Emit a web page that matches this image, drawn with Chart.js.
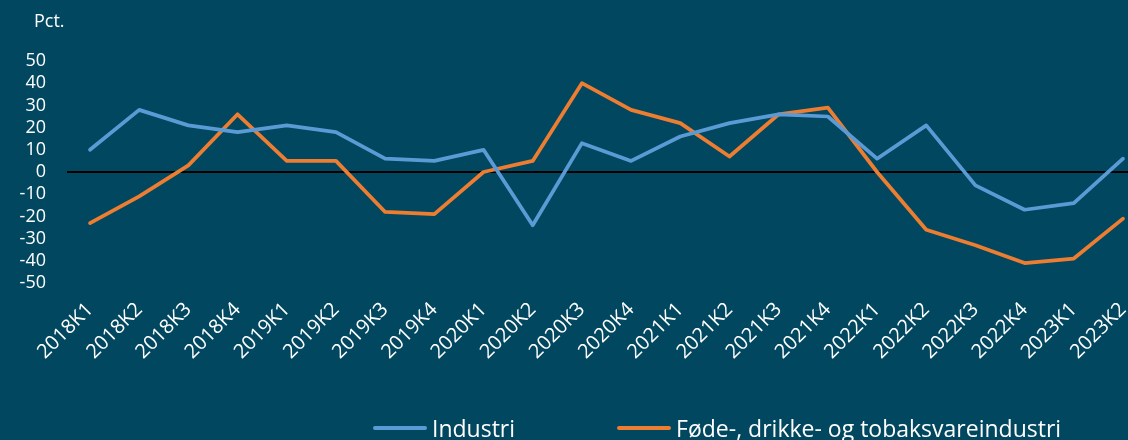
<!DOCTYPE html>
<html>
<head>
<meta charset="utf-8">
<script src="https://cdn.jsdelivr.net/npm/chart.js@4/dist/chart.umd.min.js"></script>
<style>
  html, body { margin: 0; padding: 0; background: #00475F; }
  #wrap { position: relative; width: 1128px; height: 440px; background: #00475F; overflow: hidden; font-family: "Open Sans", sans-serif; color: #ffffff; }
  #c { position: absolute; left: 0; top: 0; }
  #unit { position: absolute; left: 34px; top: 8px; font-size: 18px; color: #fff; }
  #legend { position: absolute; top: 413px; left: 373px; height: 30px; display: flex; align-items: center; font-size: 23px; color: #fff; white-space: nowrap; }
  .li { display: flex; align-items: center; }
  .sw { width: 54px; height: 4px; margin-right: 5px; border-radius: 2px; }
</style>
</head>
<body>
<div id="wrap">
  <canvas id="c" width="1128" height="440"></canvas>
  <div id="unit">Pct.</div>
  <div id="legend"></div>
</div>
<script>
const categories = ["2018K1","2018K2","2018K3","2018K4","2019K1","2019K2","2019K3","2019K4","2020K1","2020K2","2020K3","2020K4","2021K1","2021K2","2021K3","2021K4","2022K1","2022K2","2022K3","2022K4","2023K1","2023K2"];
const industri = [10, 28, 21, 18, 21, 18, 6, 5, 10, -24, 13, 5, 16, 22, 26, 25, 6, 21, -6, -17, -14, 6];
const foedevarer = [-23, -11, 3, 26, 5, 5, -18, -19, 0, 5, 40, 28, 22, 7, 26, 29, 0, -26, -33, -41, -39, -21];
const seriesNames = ["Industri", "Føde-, drikke- og tobaksvareindustri"];
const seriesColors = ["#5B9BD5", "#ED7D31"];
const yTicks = [50, 40, 30, 20, 10, 0, -10, -20, -30, -40, -50];

const zeroLine = {
  id: 'zeroLine',
  beforeDatasetsDraw(chart) {
    const y = chart.scales.y.getPixelForValue(0);
    const ctx = chart.ctx;
    ctx.save();
    ctx.strokeStyle = '#000000';
    ctx.lineWidth = 2;
    ctx.beginPath();
    ctx.moveTo(chart.chartArea.left - 23, y);
    ctx.lineTo(chart.width, y);
    ctx.stroke();
    ctx.restore();
  }
};

const chart = new Chart(document.getElementById('c'), {
  type: 'line',
  data: {
    labels: categories,
    datasets: [
      { label: seriesNames[0], data: industri, borderColor: seriesColors[0], backgroundColor: seriesColors[0] },
      { label: seriesNames[1], data: foedevarer, borderColor: seriesColors[1], backgroundColor: seriesColors[1] }
    ]
  },
  options: {
    responsive: false,
    animation: false,
    layout: { padding: { left: 0, right: 5, top: 61, bottom: 0 } },
    elements: {
      line: { borderWidth: 3.75, tension: 0, borderCapStyle: 'round', borderJoinStyle: 'round' },
      point: { radius: 0, hoverRadius: 0 }
    },
    plugins: { legend: { display: false }, tooltip: { enabled: false } },
    scales: {
      x: {
        offset: false,
        grid: { display: false, drawTicks: false },
        border: { display: false },
        ticks: { color: '#ffffff', font: { family: 'Open Sans', size: 20 }, maxRotation: 45, minRotation: 45, autoSkip: false, padding: 15 },
        afterFit(scale) { scale.height = 157; scale.paddingLeft = 0; scale.paddingRight = 0; }
      },
      y: {
        min: -50, max: 50,
        grid: { display: false, drawTicks: false },
        border: { display: false },
        afterBuildTicks(scale) { scale.ticks = yTicks.map(v => ({ value: v })); },
        ticks: { color: '#ffffff', font: { family: 'Open Sans', size: 18 }, padding: 44, autoSkip: false },
        afterFit(scale) { scale.width = 90; }
      }
    }
  },
  plugins: [zeroLine]
});

const legend = document.getElementById('legend');
chart.data.datasets.forEach((ds, i) => {
  const item = document.createElement('div');
  item.className = 'li';
  if (i > 0) item.style.marginLeft = '102px';
  const sw = document.createElement('div');
  sw.className = 'sw';
  sw.style.background = ds.borderColor;
  const tx = document.createElement('span');
  tx.textContent = ds.label;
  item.appendChild(sw); item.appendChild(tx);
  legend.appendChild(item);
});
</script>
</body>
</html>
